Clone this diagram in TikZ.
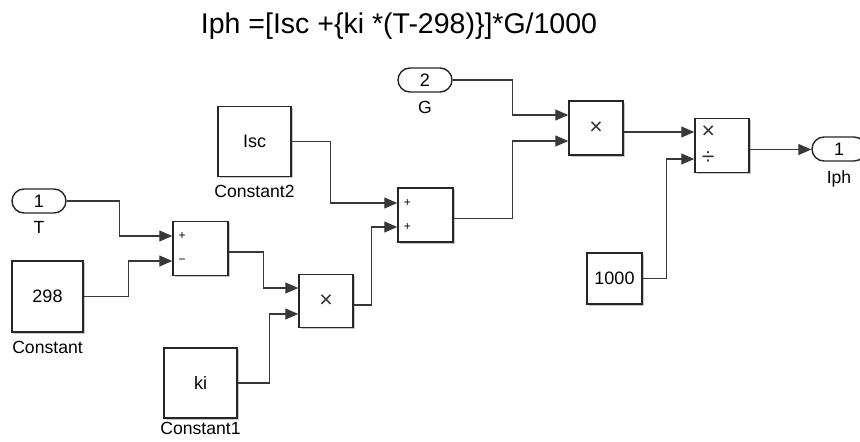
\documentclass[tikz,border=0pt]{standalone}
\usepackage{fontspec}
\setmainfont{Liberation Sans}
\usetikzlibrary{arrows.meta,calc,shadows}
\begin{document}
\begin{tikzpicture}[x=1pt,y=-1pt,
  wire/.style={draw=black!78, line width=1.2pt, -{Triangle[length=13pt,width=11pt]}},
  blk/.style={draw=black!85, line width=1.5pt, fill=white, rectangle, inner sep=0pt,
    general shadow={fill=black!22, shadow xshift=1.6pt, shadow yshift=-1.6pt},
    font=\fontsize{18}{21}\selectfont},
  port/.style={draw=black!85, line width=1.4pt, fill=white, rectangle, rounded corners=12pt,
    minimum width=54pt, minimum height=24pt, inner sep=0pt, font=\fontsize{18}{21}\selectfont},
  lbl/.style={anchor=base, font=\fontsize{17.6}{20}\selectfont, inner sep=0pt},
  sgn/.style={font=\fontsize{12}{13}\selectfont, inner sep=0pt},
  op/.style={font=\fontsize{23}{25}\selectfont, inner sep=0pt, text=black!80},
]
\useasboundingbox[fill=white] (0,0) rectangle (860,442);
\clip (0,0) rectangle (860,442);

% title
\node[anchor=base, font=\fontsize{28.5}{34}\selectfont, inner sep=0pt] (title) at (399,33)
  {Iph =[Isc +\{ki *(T-298)\}]*G/1000};

% ports
\node[port] (T) at (39,201) {1};
\node[lbl] (Tl) at (39,233) {T};
\node[port] (G) at (425,80) {2};
\node[lbl] (Gl) at (425,113) {G};
\node[port] (Iph) at (839,149) {1};
\node[lbl] (Iphl) at (839,183) {Iph};

% constants
\node[blk, minimum width=71pt, minimum height=71pt] (c298) at (47.5,296.5) {298};
\node[lbl] (c298l) at (47.5,353) {Constant};
\node[blk, minimum width=73pt, minimum height=70pt] (ki) at (200.5,383) {ki};
\node[lbl] (kil) at (200.5,434) {Constant1};
\node[blk, minimum width=73pt, minimum height=70pt] (isc) at (254.5,141.5) {Isc};
\node[lbl] (iscl) at (254.5,197) {Constant2};
\node[blk, minimum width=55pt, minimum height=51pt] (k1000) at (614.5,278.5) {1000};

% operators
\node[blk, minimum width=55pt, minimum height=54pt] (sum1) at (200.5,248.5) {};
\node[blk, minimum width=54pt, minimum height=53pt] (prod1) at (326,301) {};
\node[blk, minimum width=55pt, minimum height=54pt] (sum2) at (425.5,215) {};
\node[blk, minimum width=54pt, minimum height=54pt] (prod2) at (596,128) {};
\node[blk, minimum width=54pt, minimum height=54pt] (div) at (722,145.5) {};

% signs
\node[sgn] (s1p) at ([xshift=10pt,yshift=12.5pt]sum1.west) {+};
\node[sgn] (s1m) at ([xshift=10pt,yshift=-12.5pt]sum1.west) {−};
\node[sgn] (s2p) at ([xshift=10pt,yshift=12pt]sum2.west) {+};
\node[sgn] (s2q) at ([xshift=10pt,yshift=-12pt]sum2.west) {+};
\node[op] (x1) at (prod1.center) {×};
\node[op] (x2) at (prod2.center) {×};
\node[op] (x3) at ([xshift=14pt,yshift=13pt]div.west) {×};
\node[op] (d3) at ([xshift=14pt,yshift=-13pt]div.west) {÷};

% wires
\draw[wire] (T.east) -- ++(53,0) |- ([yshift=12.5pt]sum1.west);
\draw[wire] (c298.east) -- ++(45,0) |- ([yshift=-12.5pt]sum1.west);
\draw[wire] ([yshift=-3.5pt]sum1.east) -- ++(35,0) |- ([yshift=13pt]prod1.west);
\draw[wire] (ki.east) -- ++(32,0) |- ([yshift=-13pt]prod1.west);
\draw[wire] (isc.east) -- ++(39,0) |- ([yshift=12pt]sum2.west);
\draw[wire] ([yshift=-4pt]prod1.east) -- ++(18,0) |- ([yshift=-12pt]sum2.west);
\draw[wire] (G.east) -- ++(60,0) |- ([yshift=13pt]prod2.west);
\draw[wire] ([yshift=-3.5pt]sum2.east) -- ++(59,0) |- ([yshift=-13pt]prod2.west);
\draw[wire] ([yshift=-4pt]prod2.east) coordinate (p2o) -- (p2o -| div.west);
\draw[wire] (k1000.east) -- ++(24,0) |- ([yshift=-13.5pt]div.west);
\draw[wire] ([yshift=-4pt]div.east) coordinate (dvo) -- (dvo -| Iph.west);
\end{tikzpicture}
\end{document}
